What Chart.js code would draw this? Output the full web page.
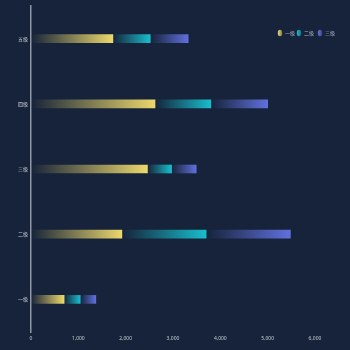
<!DOCTYPE html>
<html>
<head>
<meta charset="utf-8">
<script src="https://cdn.jsdelivr.net/npm/chart.js@4.4.0/dist/chart.umd.min.js"></script>
<style>
html,body{margin:0;padding:0;background:#16233a;}
#wrap{width:350px;height:350px;position:relative;}
</style>
</head>
<body>
<div id="wrap"><canvas id="c" width="350" height="350"></canvas></div>
<script>
const categories = ['一级', '二级', '三级', '四级', '五级'];
const seriesNames = ['一级', '二级', '三级'];
const series1 = [700, 1920, 2460, 2620, 1730];
const series2 = [340, 1780, 510, 1180, 790];
const series3 = [330, 1780, 520, 1200, 800];
const xTicks = [0, 1000, 2000, 3000, 4000, 5000, 6000];

const colors = ['rgb(236,216,108)', 'rgb(24,190,204)', 'rgb(96,112,220)'];
const colorsT = ['rgba(236,216,108,0)', 'rgba(24,190,204,0)', 'rgba(96,112,220,0)'];
const allSeries = [series1, series2, series3];

function makeBg(di) {
  return function(ctx) {
    const chart = ctx.chart;
    const x = chart.scales && chart.scales.x;
    if (!chart.chartArea || !x || ctx.dataIndex === undefined) return colors[di];
    let start = 0;
    for (let k = 0; k < di; k++) start += allSeries[k][ctx.dataIndex];
    const end = start + allSeries[di][ctx.dataIndex];
    const x0 = x.getPixelForValue(start), x1 = x.getPixelForValue(end);
    if (!isFinite(x0) || !isFinite(x1) || x1 === x0) return colors[di];
    const g = chart.ctx.createLinearGradient(x0, 0, x1, 0);
    g.addColorStop(0, colorsT[di]);
    g.addColorStop(1, colors[di]);
    return g;
  };
}

const legendPlugin = {
  id: 'customLegend',
  afterDraw(chart) {
    const c = chart.ctx;
    const xs = [280, 299, 320];
    const y = 33;
    c.save();
    c.font = '5px "Noto Sans CJK SC", sans-serif';
    c.textBaseline = 'middle';
    c.textAlign = 'left';
    seriesNames.forEach((n, i) => {
      const g = c.createLinearGradient(xs[i] - 2, 0, xs[i] + 2, 0);
      g.addColorStop(0, colors[i]);
      g.addColorStop(1, colorsT[i].replace(',0)', ',0.5)'));
      c.fillStyle = g;
      c.beginPath();
      c.ellipse(xs[i], y, 2.2, 3.2, 0, 0, Math.PI * 2);
      c.fill();
      c.fillStyle = '#aab3c2';
      c.fillText(n, xs[i] + 5, y);
    });
    c.restore();
  }
};

new Chart(document.getElementById('c'), {
  type: 'bar',
  data: {
    labels: categories,
    datasets: allSeries.map((s, i) => ({
      label: seriesNames[i],
      data: s,
      backgroundColor: makeBg(i),
      borderWidth: 0,
      barThickness: 8
    }))
  },
  options: {
    indexAxis: 'y',
    responsive: false,
    animation: false,
    devicePixelRatio: 1,
    layout: { padding: { top: 4, right: 35, bottom: 0, left: 0 } },
    plugins: { legend: { display: false }, tooltip: { enabled: false } },
    scales: {
      x: {
        stacked: true,
        min: 0,
        max: 6000,
        afterBuildTicks(scale) { scale.ticks = xTicks.map(v => ({ value: v })); },
        grid: { display: false, drawTicks: false },
        border: { display: false },
        ticks: {
          color: '#c8ccd4',
          font: { size: 5, family: '"Noto Sans", sans-serif' },
          padding: 4,
          callback: v => v.toLocaleString('en-US')
        },
        afterFit(scale) { scale.height = 18; }
      },
      y: {
        stacked: true,
        reverse: true,
        grid: { display: false, drawTicks: false },
        border: { display: true, color: '#8e97a8', width: 1.5 },
        ticks: {
          color: '#c8ccd4',
          font: { size: 5, family: '"Noto Sans CJK SC", sans-serif' },
          padding: 3
        },
        afterFit(scale) { scale.width = 31; }
      }
    }
  },
  plugins: [legendPlugin, {
    id: 'bg',
    beforeDraw(chart) {
      const c = chart.ctx;
      c.save();
      c.fillStyle = '#16233a';
      c.fillRect(0, 0, chart.width, chart.height);
      c.restore();
    }
  }]
});
</script>
</body>
</html>
